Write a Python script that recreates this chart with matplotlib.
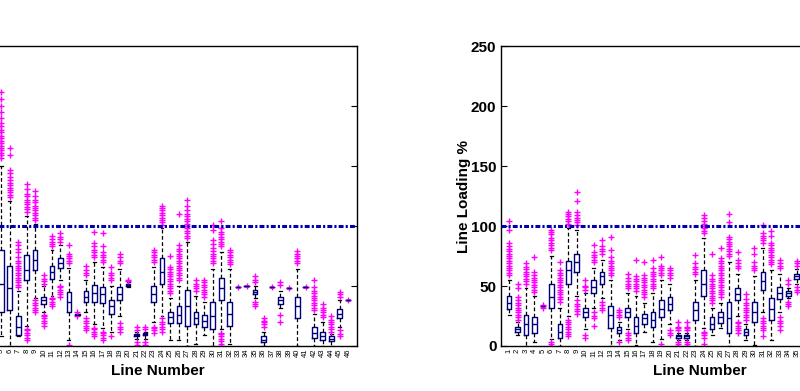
import matplotlib
matplotlib.use('Agg')
import matplotlib.pyplot as plt

plt.rcParams['font.family'] = ['Liberation Sans', 'DejaVu Sans']

# ---- left panel (lines 1..46, only 5..46 readable) ----
L_pos = list(range(5, 47))
L_lo  = [8, 0, 8, 17, 40, 28, 42, 55, 5, 26, 28, 18, 15, 12, 25, 49, 6, 6, 20, 25, 5,
         5, 0, 2, 9, 0, 14, 2, 49, 50, 40, 0, 49, 32, 48, 0, 49, 0, 0, 0, 16, 38]
L_q1  = [28, 30, 9, 55, 63, 35, 56, 65, 28, 26, 37, 37, 36, 27, 38, 50, 8, 9, 37, 52, 19,
         19, 17, 18, 16, 14, 38, 17, 49, 50, 43, 3, 49, 35, 48, 23, 49, 7, 5, 4, 23, 38]
L_med = [52, 48, 16, 63, 72, 38, 62, 69, 37, 26, 41, 44, 43, 33, 43, 51, 9, 10, 43, 62, 24,
         26, 33, 23, 21, 25, 48, 27, 49, 50, 45, 5, 49, 38, 48, 33, 49, 11, 8, 6, 27, 38]
L_q3  = [80, 67, 25, 76, 80, 41, 67, 73, 45, 27, 46, 51, 49, 38, 49, 52, 10, 11, 50, 73, 28,
         33, 47, 28, 26, 37, 57, 37, 49, 50, 47, 8, 49, 41, 48, 41, 49, 16, 12, 8, 31, 38]
L_hi  = [150, 121, 46, 108, 102, 50, 80, 84, 65, 27, 55, 70, 66, 50, 64, 53, 12, 12, 66, 98, 40,
         50, 87, 42, 37, 64, 78, 64, 49, 50, 50, 12, 49, 46, 48, 64, 49, 27, 20, 10, 38, 38]
L_fl = [
    [157, 159, 161, 163, 165, 167, 169, 171, 173, 175, 178, 180, 183, 186, 190, 195, 200, 206, 212],
    [124, 126, 128, 130, 132, 134, 136, 138, 141, 144, 147, 159, 165],
    [49, 51, 53, 55, 57, 59, 61, 63, 65, 67, 69, 71, 74, 78, 81, 84, 87],
    [5, 7, 9, 11, 13, 14, 112, 114, 116, 118, 120, 122, 125, 127, 131, 135],
    [28, 30, 32, 34, 36, 38, 105, 107, 109, 111, 113, 115, 117, 120, 122, 125, 129],
    [17, 19, 21, 23, 25, 26, 52, 54, 56, 59],
    [33, 35, 37, 39, 40, 83, 85, 87, 89, 92],
    [41, 43, 45, 47, 49, 50, 87, 89, 91, 94],
    [1, 69, 71, 73, 75, 77, 84],
    [25, 28],
    [13, 15, 17, 19, 21, 23, 59, 61, 63, 67],
    [8, 10, 12, 14, 15, 74, 76, 78, 80, 83, 86, 95],
    [5, 7, 9, 11, 12, 70, 72, 74, 76, 78, 83, 94],
    [8, 55, 57, 59, 61, 66],
    [12, 14, 16, 19, 69, 71, 74, 77],
    [54, 55],
    [1, 3, 13, 16],
    [1, 3, 14, 16],
    [11, 13, 15, 16, 70, 72, 74, 76, 78, 80],
    [12, 14, 16, 18, 20, 23, 101, 103, 105, 107, 109, 111, 113, 115, 117],
    [44, 46, 48, 50, 52, 54, 56, 58, 60, 62, 64, 66, 75],
    [55, 57, 59, 61, 63, 65, 67, 69, 71, 73, 75, 77, 79, 81, 84, 110],
    [90, 92, 94, 96, 98, 100, 102, 104, 106, 108, 110, 113, 117, 122],
    [46, 48, 50, 52, 55],
    [41, 43, 45, 47, 49, 51, 53, 55],
    [69, 71, 73, 75, 77, 79, 82, 85, 88, 97, 101],
    [0, 2, 4, 6, 8, 10, 11, 83, 85, 87, 89, 91, 93, 95, 98, 104],
    [68, 70, 72, 74, 76, 78, 80],
    [49],
    [50],
    [33, 35, 37, 53, 55, 58],
    [16, 18, 20, 21, 23],
    [49],
    [20, 26, 51, 53],
    [48],
    [69, 71, 73, 75, 77, 79],
    [49],
    [30, 32, 34, 36, 38, 40, 42, 44, 46, 49, 55],
    [24, 26, 28, 30, 32, 35],
    [12, 14, 16, 18, 20, 22, 25],
    [8, 10, 13, 41, 43, 45],
    [38],
]

# ---- right panel (lines 1..35 visible) ----
R_pos = list(range(1, 36))
R_lo  = [26, 9, 0, 3, 33, 6, 0, 25, 42, 14, 32, 40, 0, 5, 14, 1, 12, 3, 6, 18, 5, 5, 0, 15,
         9, 15, 0, 25, 5, 1, 28, 5, 28, 40, 52]
R_q1  = [31, 12, 9, 11, 33, 32, 7, 52, 62, 24, 44, 52, 15, 11, 24, 11, 18, 16, 24, 30, 7, 7,
         22, 42, 14, 19, 11, 38, 9, 20, 47, 22, 39, 42, 56]
R_med = [36, 14, 18, 18, 33, 41, 12, 63, 70, 28, 49, 58, 26, 13, 28, 17, 23, 22, 31, 35, 8, 8,
         30, 52, 18, 24, 23, 43, 12, 28, 54, 31, 44, 44, 58]
R_q3  = [42, 16, 26, 24, 33, 52, 18, 71, 77, 32, 55, 62, 33, 16, 32, 24, 27, 28, 38, 41, 9, 9,
         37, 63, 24, 28, 37, 48, 14, 37, 62, 40, 49, 46, 60]
R_hi  = [55, 20, 48, 42, 33, 75, 32, 98, 97, 44, 65, 72, 55, 20, 44, 42, 36, 44, 55, 52, 11, 11,
         55, 90, 32, 36, 70, 60, 18, 58, 82, 63, 60, 48, 64]
R_fl = [
    [59, 61, 63, 65, 67, 69, 71, 73, 75, 77, 79, 81, 83, 86, 97, 104],
    [22, 24, 26, 28, 30, 32, 34, 36, 38, 41, 48, 52],
    [52, 54, 56, 58, 60, 62, 64, 66, 69],
    [45, 47, 49, 51, 53, 55, 57, 59, 62, 74],
    [32, 33, 34],
    [0, 2, 3, 80, 82, 84, 86, 88, 90, 93, 95, 97],
    [37, 39, 41, 43, 45, 47, 49, 51, 53, 55, 57, 59, 61, 63, 70],
    [8, 10, 12, 14, 16, 18, 20, 22, 102, 104, 106, 108, 110, 112],
    [27, 29, 31, 33, 35, 38, 101, 103, 105, 107, 109, 112, 121, 128],
    [7, 9, 47, 49, 50, 55],
    [17, 23, 25, 28, 70, 72, 74, 76, 78, 84],
    [30, 32, 34, 37, 77, 79, 81, 83, 88],
    [59, 61, 63, 65, 67, 69, 71, 74, 80, 91],
    [3, 24, 26, 28, 30],
    [5, 7, 9, 11, 48, 50, 52, 54, 57, 60],
    [46, 48, 50, 52, 54, 56, 58, 72],
    [41, 43, 45, 47, 49, 51, 53, 55, 57, 59, 70],
    [48, 50, 52, 54, 56, 58, 60, 62, 65, 72],
    [2, 59, 61, 63, 65, 67, 74],
    [9, 11, 13, 57, 59, 61, 63, 65],
    [0, 2, 3, 13, 15, 16, 20],
    [0, 2, 3, 13, 15, 16, 20],
    [60, 62, 64, 66, 69, 76],
    [2, 7, 9, 11, 12, 94, 96, 98, 100, 102, 104, 107, 109],
    [36, 38, 40, 42, 44, 46, 48, 50, 52, 54, 56, 59, 77],
    [41, 43, 45, 47, 49, 51, 53, 55, 57, 59, 61, 63, 65, 67, 69, 71, 73, 82],
    [75, 77, 79, 81, 83, 85, 87, 89, 91, 103, 110],
    [11, 13, 15, 17, 19, 20, 65, 67, 69, 72, 78],
    [22, 24, 26, 28, 30, 32, 34, 36, 39, 43],
    [63, 65, 67, 70, 77, 82],
    [8, 13, 15, 17, 19, 21, 23, 86, 88, 90, 92, 94, 101],
    [68, 70, 72, 74, 76, 78, 80, 82, 84, 86, 92, 96],
    [13, 17, 19, 21, 24, 65, 67, 69, 72],
    [33, 35, 37, 52, 55],
    [45, 47, 49, 67, 69, 71],
]

LIMIT = 100
N_LINES = 46
Y_TICKS = [0, 50, 100, 150, 200, 250]

NAVY = '#00007F'
MAG = '#FF00FF'


def draw_panel(ax, pos, lo, q1, med, q3, hi, fl):
    stats = []
    for i in range(len(pos)):
        stats.append(dict(whislo=lo[i], q1=q1[i], med=med[i], q3=q3[i],
                          whishi=hi[i], fliers=fl[i]))
    ax.bxp(stats, positions=pos, widths=0.55, capwidths=0.35, showfliers=True,
           boxprops=dict(color=NAVY, linewidth=1.0),
           medianprops=dict(color=NAVY, linewidth=1.0),
           whiskerprops=dict(color='black', linewidth=0.9, linestyle=(0, (3, 2))),
           capprops=dict(color='black', linewidth=0.9),
           flierprops=dict(marker='+', markeredgecolor=MAG, markersize=5,
                           markeredgewidth=1.0, linestyle='none'))
    ax.axhline(LIMIT, color='#0000B0', linewidth=2.2, linestyle=(0, (1.6, 0.7, 0.7, 0.7)),
               zorder=5)
    ax.set_xlim(0, N_LINES + 1)
    ax.set_ylim(0, 250)
    ax.set_xticks(range(1, N_LINES + 1))
    ax.set_xticklabels([str(k) for k in range(1, N_LINES + 1)], rotation=90, fontsize=5.5)
    ax.set_yticks(Y_TICKS)
    ax.set_yticklabels([str(v) for v in Y_TICKS], fontsize=11, fontweight='bold')
    ax.tick_params(axis='x', length=0, pad=2)
    ax.tick_params(axis='y', direction='in', length=4, right=True, pad=3)
    ax.set_xlabel('Line Number', fontsize=11, fontweight='bold', labelpad=5)
    ax.set_ylabel('Line Loading %', fontsize=11, fontweight='bold', labelpad=0)
    for s in ax.spines.values():
        s.set_linewidth(1.0)


fig = plt.figure(figsize=(8, 3.91), dpi=100)
axL = fig.add_axes([-0.0513, 0.1151, 0.497, 0.767])
axR = fig.add_axes([0.6258, 0.1151, 0.497, 0.767])

draw_panel(axL, L_pos, L_lo, L_q1, L_med, L_q3, L_hi, L_fl)
draw_panel(axR, R_pos, R_lo, R_q1, R_med, R_q3, R_hi, R_fl)

fig.savefig('out.png', dpi=100)
